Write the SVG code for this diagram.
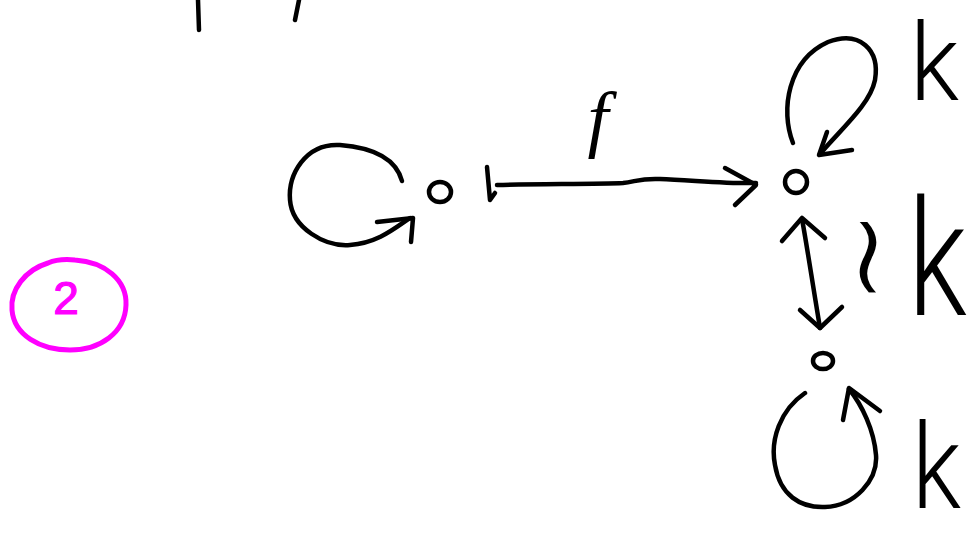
<svg xmlns="http://www.w3.org/2000/svg" width="969" height="537" viewBox="0 0 969 537">
<style>
.ink{fill:none;stroke:#000;stroke-width:4.5;stroke-linecap:round;stroke-linejoin:round}
.node{fill:none;stroke:#000;stroke-width:4.5}
.lbl{font-family:Roboto,"Liberation Sans",Arial,sans-serif;font-weight:300;fill:#000}
.mag{fill:none;stroke:#ff00ff;stroke-width:5;stroke-linecap:round}
</style>
<rect width="969" height="537" fill="#fff"/>
<g id="top-fragments">
<path class="ink" d="M198,0 L199,30"/>
<path class="ink" d="M299,0 L295,20"/>
</g>
<g id="section-mark">
<path class="mag" d="M48,263 C25,270 10,290 12,310 C14,335 40,350 70,350 C100,350 125,333 126,305 C127,280 105,262 75,260 C65,259 55,260 48,263"/>
<text x="66" y="314" font-size="46" text-anchor="middle" font-family="Liberation Sans, Arial, sans-serif" fill="#ff00ff" stroke="#ff00ff" stroke-width="1.2">2</text>
</g>
<g id="node-left">
<ellipse class="node" cx="440" cy="192" rx="11" ry="10"/>
</g>
<g id="node-right-top">
<ellipse class="node" cx="796" cy="182" rx="11" ry="11"/>
</g>
<g id="node-right-bottom">
<ellipse class="node" cx="823" cy="361" rx="10" ry="8"/>
</g>
<g id="connectors">
<path class="ink" d="M402,181 C395,155 365,147 340,145 C305,143 288,175 290,200 C292,228 325,247 350,245 C378,243 395,228 410,218"/>
<path class="ink" d="M377,222 L413,218 L411,242"/>
<path class="ink" d="M487,167 L490,200 L495,193"/>
<path class="ink" d="M497,185 C540,184 600,184 623,183 C635,182 640,178 660,179 C690,180 730,184 756,183"/>
<path class="ink" d="M725,168 L756,185 L735,205"/>
<path class="ink" d="M793,143 C780,110 788,60 828,42 C860,30 880,50 875,80 C870,105 840,130 820,154"/>
<path class="ink" d="M827,132 L819,155 L852,150"/>
<path class="ink" d="M802,219 C806,240 812,280 820,328"/>
<path class="ink" d="M782,241 L802,218 L825,238"/>
<path class="ink" d="M800,310 L820,328 L842,307"/>
<path class="ink" d="M805,393 C780,410 770,440 775,465 C780,495 800,508 825,507 C855,506 878,480 876,455 C874,430 862,405 849,389"/>
<path class="ink" d="M843,420 L849,388 L880,411"/>
</g>
<g id="labels">
<text x="598" y="143" font-size="75" text-anchor="middle" font-family="Liberation Serif, Times New Roman, serif" font-style="italic" fill="#000">f</text>
<text transform="translate(868,294) scale(1.25,1.05)" font-size="112" text-anchor="middle" font-family="DejaVu Sans, sans-serif" fill="#000" stroke="#fff" stroke-width="3">≀</text>
<text class="lbl" transform="translate(910,100) scale(1.0,1.07)" font-size="100">k</text>
<text class="lbl" transform="translate(908,315) scale(1.2,1.62)" font-size="100">k</text>
<text class="lbl" transform="translate(912,508) scale(1.0,1.19)" font-size="100">k</text>
</g>
</svg>
